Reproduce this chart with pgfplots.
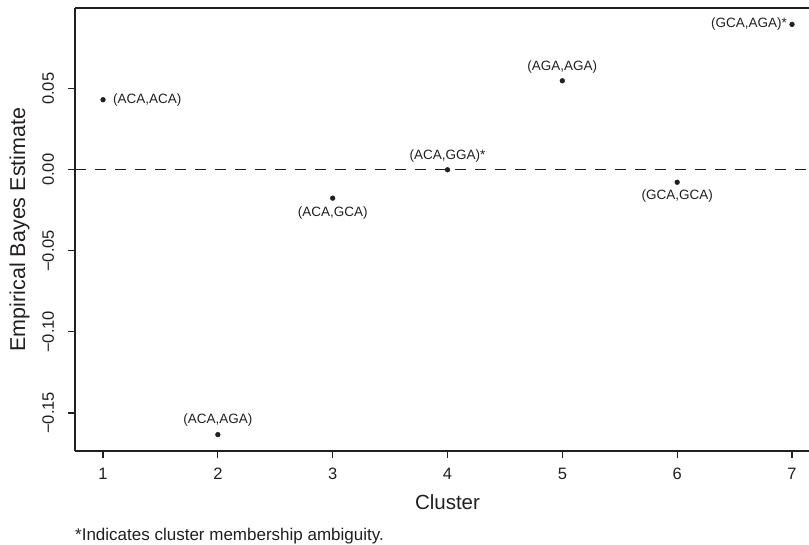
\documentclass[border=0pt]{standalone}
\usepackage{fontspec}
\setmainfont{Liberation Sans}
\usepackage{pgfplots}
\pgfplotsset{compat=1.18}
\definecolor{ink}{HTML}{231F20}
\begin{document}
\begin{tikzpicture}
\begin{axis}[
  name=ax,
  scale only axis, width=734pt, height=443pt,
  xmin=0.756, xmax=7.148, ymin=-0.1735, ymax=0.0998,
  axis lines=left,
  axis line style={-, line width=1.4pt, draw=ink},
  tick align=outside,
  major tick length=7pt,
  tick style={line width=1.2pt, draw=ink},
  xtick={1,2,3,4,5,6,7},
  ytick={-0.15,-0.10,-0.05,0,0.05},
  yticklabels={−0.15,−0.10,−0.05,0.00,0.05},
  /pgf/number format/assume math mode=true,
  ticklabel style={font=\fontsize{16.5}{18}\selectfont, text=ink},
  xticklabel style={anchor=base, yshift=-22pt},
  yticklabel style={rotate=90, anchor=base, yshift=14pt},
  every axis x label/.style={at={(axis description cs:0.5075,0)}, anchor=base, yshift=-59pt, font=\fontsize{20.5}{23}\selectfont, text=ink},
  every axis y label/.style={at={(axis description cs:-0.0681,0.5)}, rotate=90, anchor=base, font=\fontsize{21.5}{24}\selectfont, text=ink},
  xlabel={Cluster},
  ylabel={Empirical Bayes Estimate},
  clip=false,
]
\draw[line width=1.4pt, draw=ink] (rel axis cs:0,1) -- (rel axis cs:1,1);
\addplot[ink, dash pattern=on 11pt off 9pt, line width=1.3pt] coordinates {(0.756,0) (7.148,0)};
\addplot[only marks, mark=*, mark size=2.4pt, ink] coordinates {
  (1, 0.0432) (2, -0.1634) (3, -0.0175) (4, 0.0000) (5, 0.0549) (6, -0.0077) (7, 0.0897)
};
\begin{scope}[every node/.style={font=\fontsize{13.5}{16}\selectfont, text=ink, inner sep=0pt}]
\node[anchor=west] at (axis cs:1,0.0432) [xshift=10pt] {(ACA,ACA)};
\node[anchor=center] at (axis cs:2,-0.1634) [yshift=14.5pt] {(ACA,AGA)};
\node[anchor=center] at (axis cs:3,-0.0175) [yshift=-14.5pt] {(ACA,GCA)};
\node[anchor=center] at (axis cs:4,0) [yshift=13.5pt] {(ACA,GGA)*};
\node[anchor=center] at (axis cs:5,0.0549) [yshift=14pt] {(AGA,AGA)};
\node[anchor=center] at (axis cs:6,-0.0077) [yshift=-14pt] {(GCA,GCA)};
\node[anchor=east] at (axis cs:7,0.0897) [xshift=-5pt] {(GCA,AGA)*};
\end{scope}
\node[anchor=base west, inner sep=0pt, font=\fontsize{17}{20}\selectfont, text=ink] at (rel axis cs:0,0) [yshift=-90pt] {*Indicates cluster membership ambiguity.};
\end{axis}
\pgfresetboundingbox
\path ([shift={(-75pt,-94pt)}]ax.south west) rectangle ([shift={(0pt,8pt)}]ax.north east);
\end{tikzpicture}
\end{document}
